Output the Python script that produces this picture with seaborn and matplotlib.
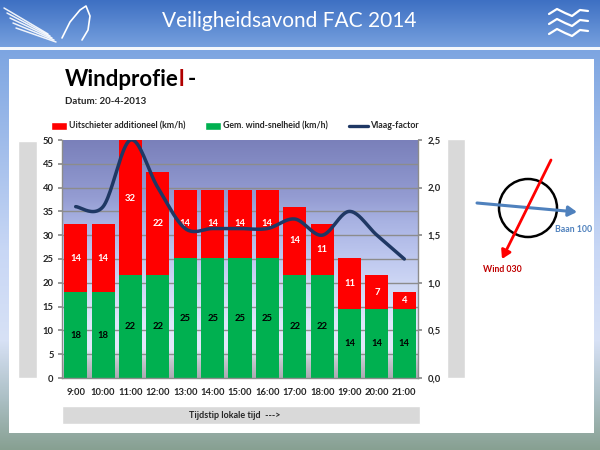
import numpy as np
import pandas as pd
import seaborn as sns
import matplotlib.pyplot as plt
from matplotlib.patches import Rectangle, Circle, FancyArrowPatch
from matplotlib.ticker import FixedLocator, FuncFormatter

# data
times = ['9:00', '10:00', '11:00', '12:00', '13:00', '14:00', '15:00',
         '16:00', '17:00', '18:00', '19:00', '20:00', '21:00']
gem_wind = [18, 18, 21.6, 21.6, 25.2, 25.2, 25.2, 25.2, 21.6, 21.6, 14.4, 14.4, 14.4]
uitschieter = [14.4, 14.4, 32.4, 21.6, 14.4, 14.4, 14.4, 14.4, 14.4, 10.8, 10.8, 7.2, 3.6]
vlaag = [1.8, 1.8, 2.5, 2.0, 1.57, 1.57, 1.57, 1.57, 1.67, 1.5, 1.75, 1.5, 1.25]

RED = '#ff0000'
GREEN = '#00b050'
NAVY = '#1f3864'
GREY = '#d9d9d9'
FONT = ['Lato', 'DejaVu Sans']
SMALL = 6.8

sns.set_theme(style='white')
plt.rcParams['font.family'] = FONT


def smooth(xs, ys, n=24):
    # excel-like smoothed line (bezier through the points)
    pts = np.column_stack([xs, ys]).astype(float)
    pad = np.vstack([pts[0], pts, pts[-1]])
    t = np.linspace(0, 1, n)[:, None]
    out = []
    for i in range(len(pts) - 1):
        p0, p1, p2, p3 = pad[i], pad[i + 1], pad[i + 2], pad[i + 3]
        c1 = p1 + (p2 - p0) / 6
        c2 = p2 - (p3 - p1) / 6
        seg = (1 - t) ** 3 * p1 + 3 * (1 - t) ** 2 * t * c1 + 3 * (1 - t) * t ** 2 * c2 + t ** 3 * p2
        out.append(seg if i == 0 else seg[1:])
    return np.vstack(out)


df = pd.DataFrame({'tijd': times, 'gem': gem_wind, 'uit': uitschieter})
df['totaal'] = df['gem'] + df['uit']

fig = plt.figure(figsize=(6, 4.5), dpi=100)

# slide background in pixel coordinates
bg = fig.add_axes([0, 0, 1, 1])
bg.set_xlim(0, 600)
bg.set_ylim(450, 0)
bg.axis('off')
ys = np.arange(450)
stops_y = [0, 46, 47, 49, 50, 250, 340, 400, 449]
stops_c = np.array([(62, 112, 195), (118, 160, 222), (245, 248, 252), (245, 248, 252),
                    (125, 165, 225), (200, 215, 245), (215, 225, 245),
                    (170, 190, 195), (135, 160, 145)]) / 255
grad = np.stack([np.interp(ys, stops_y, stops_c[:, k]) for k in range(3)], axis=1)
bg.imshow(grad[:, None, :], extent=[0, 600, 450, 0], aspect='auto', zorder=0)

bg.text(289, 21, 'Veiligheidsavond FAC 2014', color='white', fontsize=15,
        ha='center', va='center')

# simple logo strokes
for k in range(5):
    bg.plot([4 + k * 3, 48 + k * 2], [8 + k * 5, 34 + k * 2], color='white', lw=1.1, alpha=0.9, zorder=2)
bg.plot([62, 70, 80, 86, 90, 88, 82], [38, 22, 10, 6, 16, 30, 40], color='white', lw=1.2, zorder=2)
for yb in [12, 22, 32]:
    bg.plot([549, 557, 565, 572, 580, 588], [yb + 2, yb - 3, yb + 1, yb + 4, yb - 2, yb - 1],
            color='white', lw=1.6, zorder=2)

# white panel
bg.add_patch(Rectangle((9, 59), 585, 374, facecolor='white', edgecolor='none', zorder=1))
renderer = fig.canvas.get_renderer()
t1 = bg.text(65, 80, 'Windprofie', fontsize=16, fontweight='bold', color='black', va='center', zorder=3)
x_end = bg.transData.inverted().transform(t1.get_window_extent(renderer).p1)[0]
bg.text(x_end, 80, 'l', fontsize=16, fontweight='bold', color='#b00000', va='center', zorder=3)
bg.text(x_end + 9, 80, '-', fontsize=16, fontweight='bold', color='black', va='center', zorder=3)
bg.text(65, 101, 'Datum: 20-4-2013', fontsize=7, fontweight='bold', va='center', zorder=3)

# legend
bg.add_patch(Rectangle((51, 122), 16, 8, facecolor=RED, zorder=3))
bg.text(69, 126, 'Uitschieter additioneel (km/h)', fontsize=6.3, fontweight='bold', va='center', zorder=3)
bg.add_patch(Rectangle((205, 122), 16, 8, facecolor=GREEN, zorder=3))
bg.text(223, 126, 'Gem. wind-snelheid (km/h)', fontsize=6.3, fontweight='bold', va='center', zorder=3)
bg.plot([349, 368], [126, 126], color=NAVY, lw=2.4, zorder=3)
bg.text(370, 126, 'Vlaag-factor', fontsize=6.3, fontweight='bold', va='center', zorder=3)

# grey side blocks and axis title box
bg.add_patch(Rectangle((18, 141), 19, 237, facecolor=GREY, zorder=2))
bg.add_patch(Rectangle((447, 139), 18, 239, facecolor=GREY, zorder=2))
bg.add_patch(Rectangle((62, 406), 358, 18, facecolor=GREY, zorder=2))
bg.text(235, 415, 'Tijdstip lokale tijd  --->', fontsize=6.5, fontweight='bold', ha='center', va='center', zorder=3)

# runway / wind sketch
bg.add_patch(Circle((528, 208), 29, facecolor='none', edgecolor='black', lw=1.8, zorder=3))
bg.add_patch(FancyArrowPatch((477, 203), (577, 212), arrowstyle='-|>,head_length=5,head_width=3',
                             color='#4f81bd', lw=2.2, zorder=4, shrinkA=0, shrinkB=0))
bg.add_patch(FancyArrowPatch((551, 160), (502, 259), arrowstyle='-|>,head_length=5,head_width=3',
                             color=RED, lw=2.0, zorder=5, shrinkA=0, shrinkB=0))
bg.text(555, 229, 'Baan 100', color='#4f81bd', fontsize=6.3, fontweight='bold', va='center', zorder=3)
bg.text(483, 269, 'Wind 030', color='#c00000', fontsize=6.3, fontweight='bold', va='center', zorder=3)

# chart
ax = fig.add_axes([62 / 600, 72 / 450, 356 / 600, 238 / 450])
plot_stops = [0, 3.5, 6, 12, 20, 26, 33, 38, 44, 50]
plot_cols = np.array([(170, 170, 178), (195, 197, 205), (228, 233, 250), (222, 230, 250),
                      (205, 214, 244), (188, 198, 238), (168, 178, 226), (148, 156, 210),
                      (134, 142, 198), (122, 128, 186)]) / 255
vals = np.linspace(50, 0, 300)
pgrad = np.stack([np.interp(vals, plot_stops, plot_cols[:, k]) for k in range(3)], axis=1)
ax.imshow(pgrad[:, None, :], extent=[-0.5, 12.5, 0, 50], aspect='auto', zorder=0)
for g in range(5, 50, 5):
    ax.axhline(g, color='#8c8c8c', lw=1, zorder=0.5)

sns.barplot(data=df, x='tijd', y='totaal', color=RED, saturation=1, width=0.84,
            linewidth=0, ax=ax, zorder=2)
sns.barplot(data=df, x='tijd', y='gem', color=GREEN, saturation=1, width=0.84,
            linewidth=0, ax=ax, zorder=2)

for i, (g, u) in enumerate(zip(gem_wind, uitschieter)):
    ax.text(i, g / 2, f'{round(g)}', ha='center', va='center', fontsize=SMALL,
            fontweight='bold', color='black', zorder=3)
    ax.text(i, g + u / 2, f'{round(u)}', ha='center', va='center', fontsize=SMALL,
            fontweight='bold', color='white', zorder=3)

ax.set_xlim(-0.5, 12.5)
ax.set_ylim(0, 50)
ax.set_yticks(range(0, 51, 5))
ax.set_xlabel('')
ax.set_ylabel('')
ax.xaxis.set_minor_locator(FixedLocator(np.arange(-0.5, 13, 1)))
ax.tick_params(axis='x', which='major', length=0, pad=7, labelsize=SMALL)
ax.tick_params(axis='x', which='minor', length=3, color='#8c8c8c', direction='out')
ax.tick_params(axis='y', length=3, color='#8c8c8c', direction='out', labelsize=SMALL, pad=3, left=True)
for s in ['top', 'right']:
    ax.spines[s].set_visible(False)
for s in ['left', 'bottom']:
    ax.spines[s].set_color('#8c8c8c')
    ax.spines[s].set_linewidth(1)

ax2 = ax.twinx()
curve = smooth(np.arange(len(vlaag)), vlaag)
sns.lineplot(x=curve[:, 0], y=curve[:, 1], ax=ax2, color=NAVY, lw=2.5, sort=False, zorder=4)
ax2.set_ylim(0, 2.5)
ax2.set_yticks(np.arange(0, 2.51, 0.5))
ax2.yaxis.set_major_formatter(FuncFormatter(lambda v, p: f'{v:.1f}'.replace('.', ',')))
ax2.tick_params(axis='y', length=3, color='#8c8c8c', direction='out', labelsize=SMALL, pad=4, right=True)
ax2.set_ylabel('')
for s in ['top', 'left', 'bottom']:
    ax2.spines[s].set_visible(False)
ax2.spines['right'].set_color('#8c8c8c')
ax2.spines['right'].set_linewidth(1)

for lab in ax.get_xticklabels() + ax.get_yticklabels() + ax2.get_yticklabels():
    lab.set_fontweight('bold')

fig.savefig('out.png', dpi=100)
